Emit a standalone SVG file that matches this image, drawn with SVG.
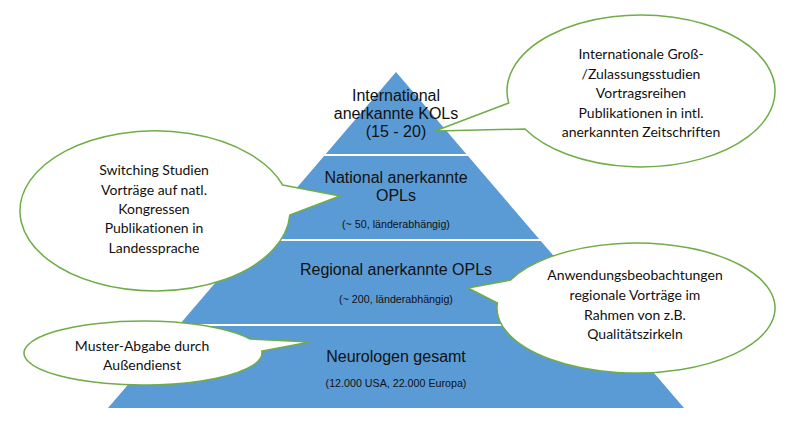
<svg xmlns="http://www.w3.org/2000/svg" width="791" height="423" viewBox="0 0 791 423">
<style>
.lvl{fill:#5b9bd5}
.div{stroke:#ffffff;stroke-width:2}
.t{font-family:"Liberation Sans",Arial,sans-serif;font-size:16px;fill:#111;text-anchor:middle}
.s{font-family:"Liberation Sans",Arial,sans-serif;font-size:10.7px;fill:#111;text-anchor:middle}
.co{fill:#ffffff;stroke:#70ad47;stroke-width:1.5;stroke-linejoin:miter}
.c{font-family:Lato,"Open Sans",sans-serif;font-size:14px;fill:#111;text-anchor:middle;font-variant-ligatures:none}
</style>
<rect width="791" height="423" fill="#ffffff"/>
<g id="pyramid">
<polygon class="lvl" points="396,72 684,408 108,408"/>
<line class="div" x1="324" y1="155" x2="468" y2="155"/>
<line class="div" x1="251" y1="240" x2="541" y2="240"/>
<line class="div" x1="178" y1="325" x2="614" y2="325"/>
</g>
<g id="level-kol">
<text class="t" x="396" y="101">International</text>
<text class="t" x="396" y="119">anerkannte KOLs</text>
<text class="t" x="396" y="137">(15 - 20)</text>
</g>
<g id="level-national">
<text class="t" x="396" y="183">National anerkannte</text>
<text class="t" x="396" y="201">OPLs</text>
<text class="s" x="396" y="228">(~ 50, länderabhängig)</text>
</g>
<g id="level-regional">
<text class="t" x="396" y="275">Regional anerkannte OPLs</text>
<text class="s" x="396" y="303">(~ 200, länderabhängig)</text>
</g>
<g id="level-neuro">
<text class="t" x="396" y="362">Neurologen gesamt</text>
<text class="s" x="396" y="387">(12.000 USA, 22.000 Europa)</text>
</g>
<g id="callouts">
<g id="callout-international">
<path class="co" d="M508.7,103 L435,131 L525,129 A134 76 0 1 0 508.7,103 Z"/>
<text class="c" x="641" y="59">Internationale Groß-</text>
<text class="c" x="641" y="79">/Zulassungsstudien</text>
<text class="c" x="641" y="98">Vortragsreihen</text>
<text class="c" x="641" y="118">Publikationen in intl.</text>
<text class="c" x="641" y="137">anerkannten Zeitschriften</text>
</g>
<g id="callout-national">
<path class="co" d="M282.7,185 L340,196 L289.8,215 A135 80 0 1 1 282.7,185 Z"/>
<text class="c" x="154" y="175">Switching Studien</text>
<text class="c" x="154" y="195">Vorträge auf natl.</text>
<text class="c" x="154" y="214">Kongressen</text>
<text class="c" x="154" y="233">Publikationen in</text>
<text class="c" x="154" y="253">Landessprache</text>
</g>
<g id="callout-regional">
<path class="co" d="M510.6,280 L468,288 L497.4,303 A139 65 0 1 0 510.6,280 Z"/>
<text class="c" x="635" y="280">Anwendungsbeobachtungen</text>
<text class="c" x="635" y="300">regionale Vorträge im</text>
<text class="c" x="635" y="320">Rahmen von z.B.</text>
<text class="c" x="635" y="339">Qualitätszirkeln</text>
</g>
<g id="callout-neuro">
<path class="co" d="M250,339 L310,342 L261.8,351 A119 32 0 1 1 250,339 Z"/>
<text class="c" x="142" y="351">Muster-Abgabe durch</text>
<text class="c" x="142" y="370">Außendienst</text>
</g>
</g>
</svg>
